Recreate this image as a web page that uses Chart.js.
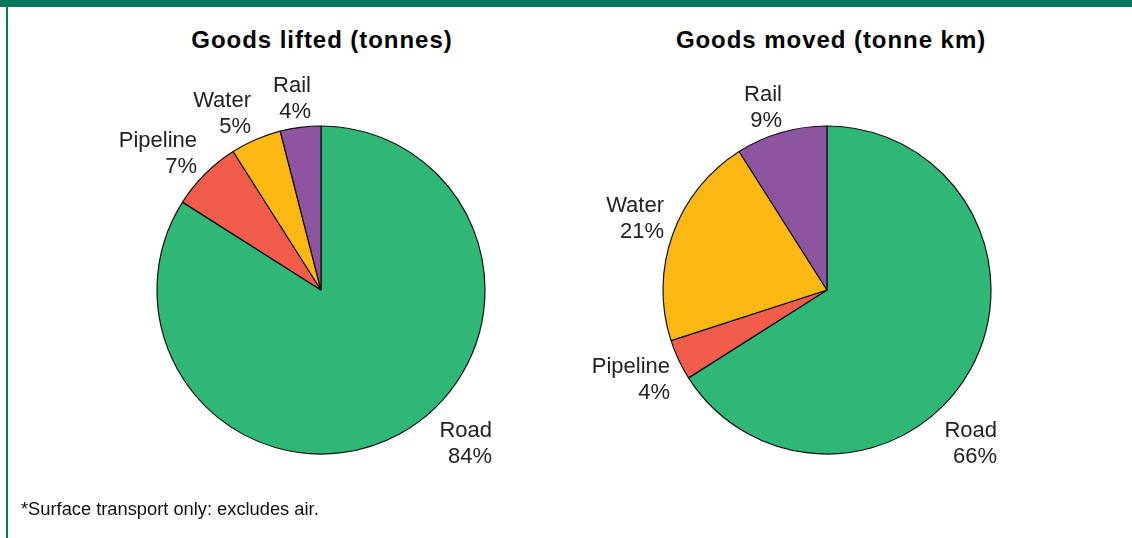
<!DOCTYPE html>
<html>
<head>
<meta charset="utf-8">
<script src="https://cdn.jsdelivr.net/npm/chart.js@4.4.1/dist/chart.umd.min.js"></script>
<style>
  html, body { margin:0; padding:0; background:#fff; width:1132px; height:538px; overflow:hidden; }
  #topbar { position:absolute; left:0; top:0; width:1132px; height:7px; background:#007a5f; }
  #leftbar { position:absolute; left:6px; top:0; width:2px; height:538px; background:#007a5f; }
  .title { position:absolute; top:28px; width:500px; text-align:center; font-family:"Liberation Sans", Arial, sans-serif; font-weight:bold; font-size:24px; line-height:24px; letter-spacing:0.95px; color:#000; }
  #note { position:absolute; left:21px; top:500px; font-family:"Liberation Sans", Arial, sans-serif; font-size:18.3px; line-height:18px; color:#111; }
  canvas { position:absolute; top:66px; }
</style>
</head>
<body>
<div id="topbar"></div>
<div id="leftbar"></div>
<div class="title" style="left:72px">Goods lifted (tonnes)</div>
<div class="title" style="left:581px">Goods moved (tonne km)</div>
<canvas id="c1" width="500" height="448" style="left:71px"></canvas>
<canvas id="c2" width="500" height="448" style="left:577px"></canvas>
<div id="note">*Surface transport only: excludes air.</div>
<script>
// ---- data ----
const categories = ["Road", "Pipeline", "Water", "Rail"];
const liftedShare = [84, 7, 5, 4];   // Goods lifted (tonnes), %
const movedShare  = [66, 4, 21, 9];  // Goods moved (tonne km), %

// ---- styles ----
const sliceColors = ["#2eb775", "#f25d4b", "#fdb813", "#8d55a0"];
// label anchor (right edge, first baseline) relative to the pie centre
const liftedLabelOffsets = [[171, 147], [-124, -143], [-70, -183], [-10, -198]];
const movedLabelOffsets  = [[170, 147], [-157, 83], [-163, -78], [-45, -189]];

const sliceLabels = {
  id: 'sliceLabels',
  afterDatasetsDraw(chart, args, opts) {
    const ctx = chart.ctx;
    const meta = chart.getDatasetMeta(0);
    ctx.save();
    ctx.font = '22px "Liberation Sans", Arial, sans-serif';
    ctx.fillStyle = '#222';
    ctx.textAlign = 'right';
    ctx.textBaseline = 'alphabetic';
    meta.data.forEach((arc, i) => {
      const off = opts.offsets[i];
      const x = arc.x + off[0], y = arc.y + off[1];
      ctx.fillText(chart.data.labels[i], x, y);
      ctx.fillText(chart.data.datasets[0].data[i] + '%', x, y + 26);
    });
    ctx.restore();
  }
};

function makePie(id, values, offsets) {
  return new Chart(document.getElementById(id), {
    type: 'pie',
    data: {
      labels: categories,
      datasets: [{
        data: values,
        backgroundColor: sliceColors,
        borderColor: '#111',
        borderWidth: 1.2,
        radius: 164,
        hoverOffset: 0
      }]
    },
    options: {
      responsive: false,
      animation: false,
      devicePixelRatio: 1,
      events: [],
      layout: { padding: 0 },
      plugins: {
        legend: { display: false },
        tooltip: { enabled: false },
        title: { display: false },
        sliceLabels: { offsets: offsets }
      }
    },
    plugins: [sliceLabels]
  });
}

makePie('c1', liftedShare, liftedLabelOffsets);
makePie('c2', movedShare, movedLabelOffsets);
</script>
</body>
</html>
